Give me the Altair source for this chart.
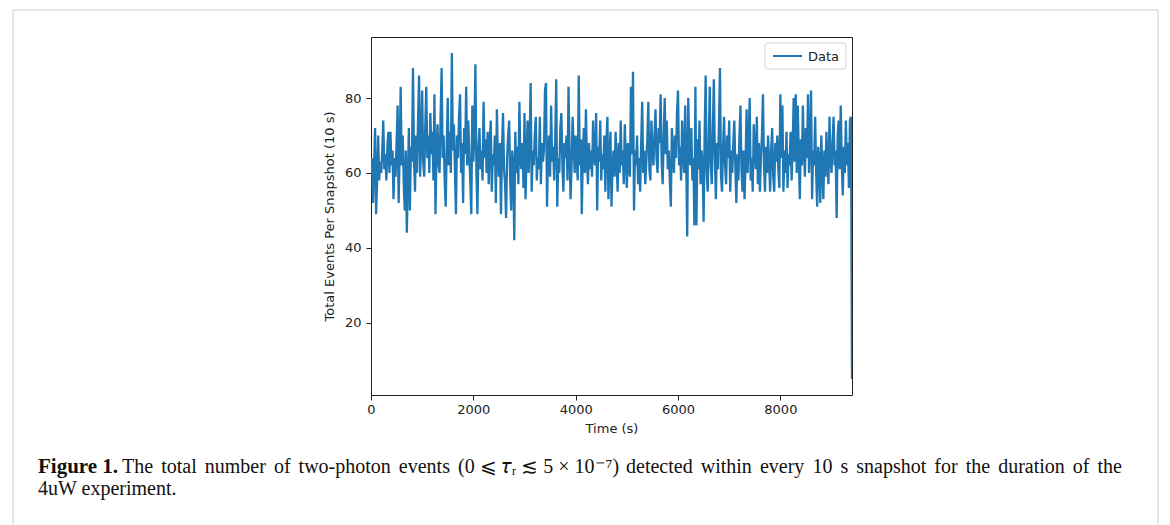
import altair as alt
import pandas as pd

seg_a = [60, 64, 52, 62, 72, 49, 58, 70, 58, 63, 60, 66, 74, 61, 65, 58, 67, 71, 60, 71,
         62, 66, 53, 64, 59, 68, 78, 52, 65, 83, 62, 70, 57, 50, 66, 44, 58, 72, 50, 67,
         63, 88, 64, 55, 70, 60, 75, 86, 59, 68]
seg_b = [82, 63, 59, 72, 83, 64, 70, 60, 76, 65, 71, 58, 81, 49, 66, 73, 62, 60, 75, 88,
         64, 70, 58, 51, 67, 80, 62, 71, 60, 92, 66, 73, 61, 49, 70, 64, 75, 81, 60, 68,
         52, 72, 65, 83, 62, 74, 66, 58, 49, 78]
seg_c = [63, 70, 89, 60, 49, 67, 72, 61, 66, 58, 79, 64, 69, 60, 71, 57, 68, 74, 55, 65,
         62, 70, 52, 77, 63, 59, 68, 49, 66, 76, 61, 57, 48, 64, 70, 74, 58, 50, 66, 62,
         42, 71, 60, 67, 57, 79, 63, 61, 68, 56]
seg_d = [76, 53, 65, 74, 60, 68, 84, 55, 66, 62, 70, 75, 58, 64, 61, 75, 57, 68, 63, 66,
         82, 84, 51, 65, 70, 59, 78, 63, 67, 58, 69, 85, 51, 64, 60, 72, 76, 62, 55, 68,
         64, 70, 58, 83, 66, 53, 62, 75, 67, 60]
seg_e = [70, 64, 58, 86, 62, 69, 49, 66, 72, 60, 77, 63, 57, 68, 61, 66, 59, 74, 64, 62,
         76, 50, 67, 63, 74, 58, 65, 61, 70, 55, 68, 75, 53, 64, 71, 51, 62, 66, 59, 71,
         63, 55, 68, 60, 74, 62, 66, 57, 73, 64]
seg_f = [56, 68, 61, 59, 83, 65, 87, 50, 66, 62, 70, 57, 64, 55, 68, 79, 60, 66, 57, 63,
         69, 79, 61, 58, 74, 66, 62, 70, 77, 64, 60, 72, 68, 81, 63, 57, 70, 80, 65, 74,
         61, 66, 58, 51, 72, 66, 60, 70, 64, 76]
seg_g = [82, 62, 67, 58, 74, 65, 60, 78, 63, 43, 80, 66, 62, 72, 58, 64, 46, 83, 46, 69,
         61, 74, 57, 66, 63, 47, 70, 86, 60, 55, 68, 83, 62, 57, 71, 85, 64, 53, 68, 61,
         73, 88, 59, 55, 67, 75, 62, 57, 70, 64]
seg_h = [74, 55, 66, 60, 68, 74, 62, 52, 65, 58, 70, 78, 61, 55, 66, 53, 63, 77, 60, 68,
         80, 58, 64, 55, 73, 66, 61, 75, 57, 68, 55, 64, 70, 81, 62, 55, 67, 60, 70, 63,
         55, 66, 72, 59, 55, 68, 63, 70, 61, 56]
seg_i = [81, 64, 78, 55, 66, 60, 71, 56, 65, 62, 71, 58, 67, 80, 63, 81, 60, 78, 65, 53,
         69, 62, 78, 66, 59, 72, 64, 81, 60, 68, 82, 53, 66, 62, 75, 60, 51, 67, 63, 52,
         70, 61, 53, 66, 59, 71, 62, 57, 75, 64]
seg_j = [60, 68, 75, 62, 66, 48, 70, 74, 61, 78, 63, 54, 67, 60, 74, 62, 68, 56, 74, 75, 5]

counts = seg_a + seg_b + seg_c + seg_d + seg_e + seg_f + seg_g + seg_h + seg_i + seg_j
step_s = 20
times = [i * step_s for i in range(len(counts))]

x_ticks = [0, 2000, 4000, 6000, 8000]
y_ticks = [20, 40, 60, 80]
legend_label = "Data"

caption_bold = "Figure 1."
caption_words1 = ["The", "total", "number", "of", "two-photon", "events",
                  "(0 \u2a7d \U0001d70f\u1d63 \u2272 5 \u00d7 10\u207b\u2077)",
                  "detected", "within", "every", "10", "s", "snapshot", "for", "the",
                  "duration", "of", "the"]
caption_line2 = "4uW experiment."

df = pd.DataFrame({"t": times, "n": counts})

PL, PT, W, H = 371, 37, 481, 358
CAP_FS = 20.0

# Approximate Times/Liberation Serif advance widths (per 1000 em) for light justification
tw = dict(a=444, b=500, c=444, d=500, e=444, f=333, g=500, h=500, i=278, j=278, k=500,
          l=278, m=778, n=500, o=500, p=500, q=500, r=333, s=389, t=278, u=500, v=500,
          w=722, x=500, y=500, z=444, T=611)
tw.update({"-": 333, "(": 333, ")": 333, ".": 250, " ": 250})
for dgt in "0123456789":
    tw[dgt] = 500


def width_px(word):
    if word.startswith("(0"):
        return 8.0 * CAP_FS
    return sum(tw.get(ch, 500) for ch in word) / 1000.0 * CAP_FS


x_start, x_end = 122, 1122
natural = sum(width_px(w) for w in caption_words1)
gap = (x_end - x_start - natural) / (len(caption_words1) - 1)
xs = []
cur = x_start
for w in caption_words1:
    xs.append(cur)
    cur += width_px(w) + gap
cap_df = pd.DataFrame({"w": caption_words1, "x": [v - PL for v in xs]})

line = alt.Chart(df).mark_line(strokeWidth=2.3, color="#1f77b4", clip=True).encode(
    x=alt.X("t:Q", scale=alt.Scale(domain=[0, 9400], nice=False, zero=False),
            axis=alt.Axis(values=x_ticks, format="d", title="Time (s)", labelPadding=3,
                          titlePadding=6, labelFlush=False)),
    y=alt.Y("n:Q", scale=alt.Scale(domain=[0.7, 96.3], nice=False, zero=False),
            axis=alt.Axis(values=y_ticks, title="Total Events Per Snapshot (10 s)",
                          labelPadding=5, titlePadding=8)),
)

one = pd.DataFrame({"k": [0]})

border = alt.Chart(one).mark_rect(fill=None, stroke="#cfcfcf", strokeWidth=1).encode(
    x=alt.value(13 - PL), x2=alt.value(1158 - PL),
    y=alt.value(10 - PT), y2=alt.value(540 - PT),
)

leg_box = alt.Chart(one).mark_rect(fill="white", stroke="#d4d4d4", strokeWidth=1,
                                   cornerRadius=3).encode(
    x=alt.value(765 - PL), x2=alt.value(846 - PL),
    y=alt.value(43 - PT), y2=alt.value(69 - PT),
)
leg_line = alt.Chart(one).mark_rule(color="#1f77b4", strokeWidth=2).encode(
    x=alt.value(773 - PL), x2=alt.value(802 - PL), y=alt.value(56 - PT),
)
leg_text = alt.Chart(one).mark_text(
    text=legend_label, font="DejaVu Sans", fontSize=13, align="left", baseline="middle",
    color="#222").encode(x=alt.value(808 - PL), y=alt.value(56.5 - PT))

cap_bold = alt.Chart(one).mark_text(
    text=caption_bold, font="Liberation Serif", fontSize=21, fontWeight="bold",
    align="left", baseline="alphabetic", color="#111").encode(
    x=alt.value(38 - PL), y=alt.value(473 - PT))

cap1 = alt.Chart(cap_df).mark_text(
    font="Liberation Serif", fontSize=CAP_FS,
    align="left", baseline="alphabetic", color="#111").encode(
    x=alt.X("x:Q", scale=None), y=alt.value(473 - PT), text="w:N")

cap2 = alt.Chart(one).mark_text(
    text=caption_line2, font="Liberation Serif", fontSize=CAP_FS,
    align="left", baseline="alphabetic", color="#111").encode(
    x=alt.value(38 - PL), y=alt.value(495 - PT))

chart = alt.layer(border, line, leg_box, leg_line, leg_text, cap_bold, cap1, cap2).properties(
    width=W, height=H,
    autosize=alt.AutoSizeParams(type="none"),
    padding={"left": PL, "top": PT, "right": 1170 - PL - W, "bottom": 525 - PT - H},
    background="white",
).configure_view(
    stroke="#222", strokeWidth=1
).configure_axis(
    grid=False, domain=False, tickColor="#222", tickSize=5, tickWidth=1,
    labelFont="DejaVu Sans", labelFontSize=13, labelColor="#222",
    titleFont="DejaVu Sans", titleFontSize=13, titleFontWeight="normal", titleColor="#222",
)

chart.save("out.html", embed_options={"renderer": "svg", "actions": False})
